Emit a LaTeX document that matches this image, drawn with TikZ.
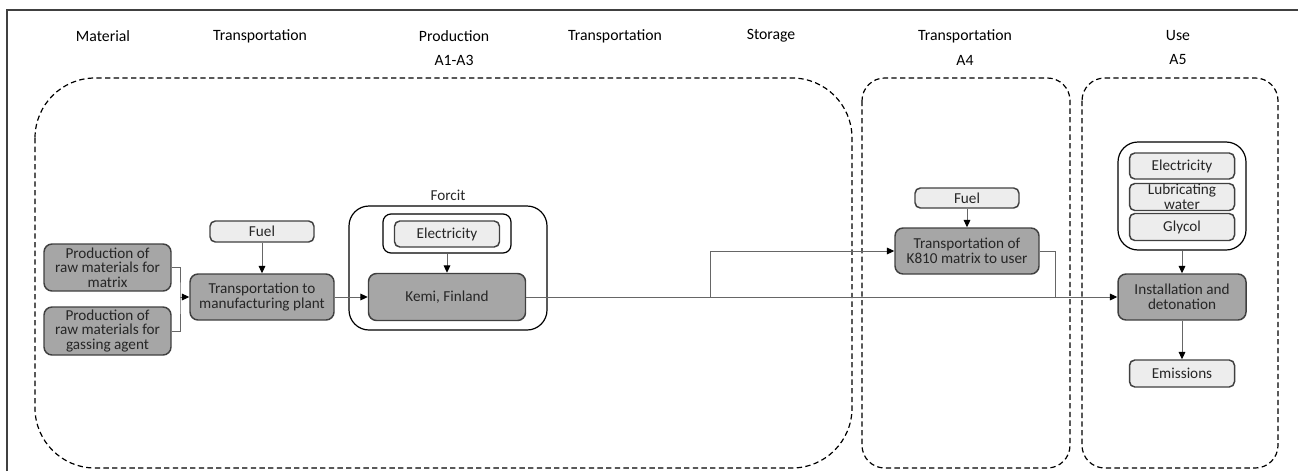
\documentclass[tikz,border=0pt]{standalone}
\usepackage{fontspec}
\setmainfont{Carlito}
\usetikzlibrary{arrows.meta}
\newdimen\pxu \pxu=0.75pt

\tikzset{
  every node/.style={font=\fontsize{11.4}{10.9}\selectfont, text=black!85},
  wh/.style 2 args={minimum width=#1\pxu, minimum height=#2\pxu},
  header/.style={font=\fontsize{11.8}{12}\selectfont, text=black},
  darkbox/.style={draw=black!75, fill=black!35, line width=1.1pt, rounded corners=6pt, align=center, inner sep=0pt},
  lightbox/.style={draw=black!75, fill=black!7, line width=1.1pt, rounded corners=4pt, align=center, inner sep=0pt},
  holder/.style={draw=black, line width=0.9pt, rounded corners=15pt, inner sep=0pt},
  phase/.style={draw=black, dash pattern=on 4pt off 2.5pt, line width=0.9pt},
  link/.style={draw=black!60, line width=0.75pt},
  flow/.style={link, -{Stealth[length=5.5pt,width=5pt,inset=0pt,black]}},
}

\begin{document}
\begin{tikzpicture}[x=\pxu,y=-\pxu]
  \useasboundingbox (0,0) rectangle (1298,471);
  \draw[black!75, line width=1.3pt] (7,471) -- (7,10) -- (1298,10);

  % stage headers
  \foreach \x/\t in {103/Material, 260/Transportation, 454/Production, 615/Transportation, 771/Storage, 965/Transportation, 1178/Use}
    \node[header] (head-\x) at (\x,36) {\t};
  \foreach \x/\t in {454/A1-A3, 965/A4, 1178/A5}
    \node[header] (mod-\x) at (\x,60) {\t};

  % modules
  \draw[phase, rounded corners=45pt] (35,78) rectangle (852,468);
  \draw[phase, rounded corners=17pt] (862,78) rectangle (1070,468);
  \draw[phase, rounded corners=17pt] (1082,78) rectangle (1278,468);

  % A1-A3
  \node[darkbox, wh={127}{47}] (matrix) at (107.5,267.5) {Production of\\raw materials for\\matrix};
  \node[darkbox, wh={127}{48}] (gassing) at (107.5,331) {Production of\\raw materials for\\gassing agent};
  \node[lightbox, wh={104}{21}] (fuel1) at (262,231.5) {Fuel};
  \node[darkbox, wh={144}{46}] (trans) at (262,297) {Transportation to\\manufacturing plant};
  \node[holder, wh={198}{124}] (forcit) at (448,268) {};
  \node (forcitlbl) at (448,195) {Forcit};
  \node[holder, rounded corners=6pt, wh={128}{39}] (elecwrap) at (447,233.5) {};
  \node[lightbox, wh={105}{26}] (elec1) at (447,234) {Electricity};
  \node[darkbox, wh={157}{47}] (kemi) at (447,297) {Kemi, Finland};

  % A4
  \node[lightbox, wh={104}{20}] (fuel2) at (967,198) {Fuel};
  \node[darkbox, wh={144}{46}] (k810) at (967,251) {Transportation of\\K810 matrix to user};

  % A5
  \node[holder, wh={128}{108}] (usewrap) at (1182,196) {};
  \node[lightbox, wh={105}{26}] (elec2) at (1182,166) {Electricity};
  \node[lightbox, wh={105}{27}] (water) at (1182,197) {Lubricating\\water};
  \node[lightbox, wh={105}{27}] (glycol) at (1182,227) {Glycol};
  \node[darkbox, wh={128}{46}] (inst) at (1182,297) {Installation and\\detonation};
  \node[lightbox, wh={105}{27}] (emis) at (1182,373.5) {Emissions};

  \coordinate (join) at (180,297);
  \coordinate (split) at (710,297);
  \coordinate (merge) at (1055,297);

  \draw[link] (matrix.east) -| (join) |- (gassing.east);
  \draw[flow] (join) -- (trans.west);
  \draw[flow] (fuel1) -- (trans);
  \draw[flow] (trans) -- (kemi);
  \draw[flow] (elecwrap) -- (kemi);
  \draw[flow] (kemi) -- (inst);
  \draw[flow] (split) |- (k810.west);
  \draw[link] (k810.east) -| (merge);
  \draw[flow] (fuel2) -- (k810);
  \draw[flow] (usewrap) -- (inst);
  \draw[flow] (inst) -- (emis);
\end{tikzpicture}
\end{document}
